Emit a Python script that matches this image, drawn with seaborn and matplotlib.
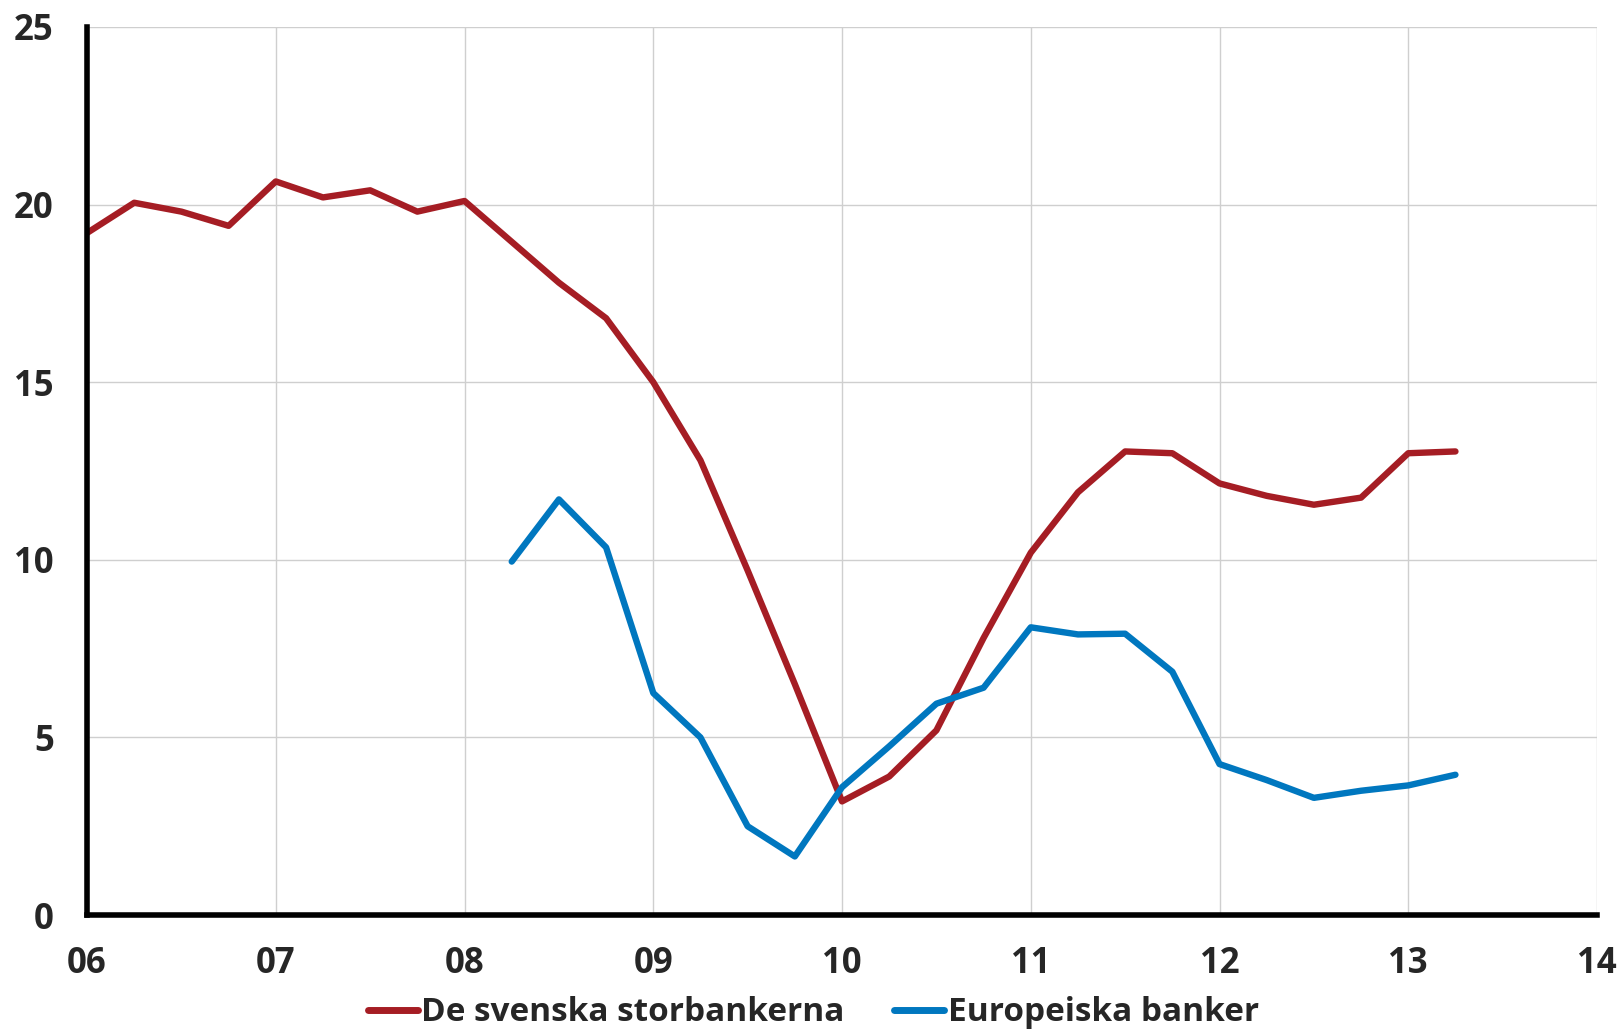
import matplotlib
matplotlib.use("Agg")
import matplotlib.pyplot as plt
import numpy as np
import pandas as pd
import seaborn as sns

# quarterly observations, decimal years
svenska_start = 2006.0
svenska = [19.2, 20.05, 19.8, 19.4, 20.65, 20.2, 20.4, 19.8, 20.1,
           18.95, 17.8, 16.8, 15.0, 12.8, 9.7, 6.5, 3.2, 3.9, 5.2,
           7.8, 10.2, 11.9, 13.05, 13.0, 12.15, 11.8, 11.55, 11.75,
           13.0, 13.05]
europa_start = 2008.25
europa = [9.95, 11.7, 10.35, 6.25, 5.0, 2.5, 1.65, 3.6, 4.75, 5.95,
          6.4, 8.1, 7.9, 7.92, 6.85, 4.25, 3.8, 3.3, 3.5, 3.65, 3.95]

series_names = ["De svenska storbankerna", "Europeiska banker"]
colors = ["#A51D24", "#0077BF"]
years = list(range(2006, 2015))
year_labels = [f"{y % 100:02d}" for y in years]
y_ticks = [0, 5, 10, 15, 20, 25]

frames = []
for name, start, vals in [(series_names[0], svenska_start, svenska),
                          (series_names[1], europa_start, europa)]:
    frames.append(pd.DataFrame({
        "date": start + 0.25 * np.arange(len(vals)),
        "value": vals,
        "series": name,
    }))
df = pd.concat(frames, ignore_index=True)

sns.set_style("whitegrid")
plt.rcParams["font.family"] = ["Open Sans", "DejaVu Sans"]

fig = plt.figure(figsize=(16.21, 10.34), dpi=100)
ax = fig.add_axes([0.0537, 0.115, 0.9315, 0.859])

sns.lineplot(data=df, x="date", y="value", hue="series",
             hue_order=series_names, palette=colors, linewidth=4.6,
             ax=ax, legend=True)

ax.set_xlim(2006, 2014)
ax.set_ylim(0, 25)
ax.set_xticks(years)
ax.set_xticklabels(year_labels)
ax.set_yticks(y_ticks)
ax.set_xlabel("")
ax.set_ylabel("")

ax.grid(True, color="#CFCFCF", linewidth=1.0)
for side in ["top", "right"]:
    ax.spines[side].set_visible(False)
for side in ["left", "bottom"]:
    ax.spines[side].set_color("black")
    ax.spines[side].set_linewidth(4)

ax.tick_params(axis="both", direction="in", length=9, width=4,
               color="black", labelsize=25)
ax.tick_params(axis="x", pad=22)
ax.tick_params(axis="y", pad=24)
for lab in ax.get_xticklabels() + ax.get_yticklabels():
    lab.set_fontweight("bold")

leg = ax.legend(loc="center", bbox_to_anchor=(0.481, -0.11), ncol=2,
                frameon=False, fontsize=24, handlelength=1.5,
                handletextpad=0.1, columnspacing=1.5)
for t in leg.get_texts():
    t.set_fontweight("bold")
for h in leg.get_lines():
    h.set_linewidth(5)

fig.savefig("out.png", dpi=100, facecolor="white")
